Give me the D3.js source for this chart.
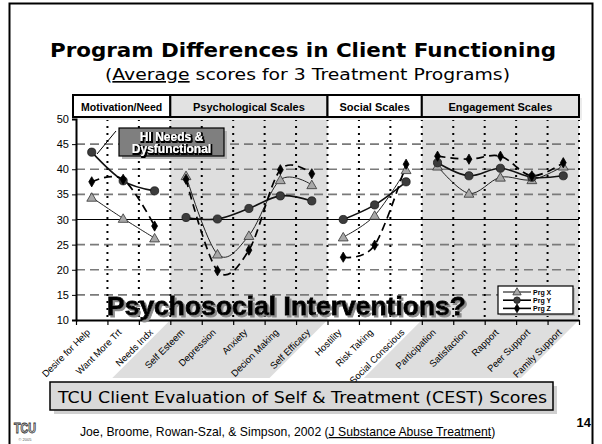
<!DOCTYPE html>
<html><head><meta charset="utf-8">
<script src="https://cdn.jsdelivr.net/npm/d3@7"></script>
<style>body{margin:0;background:#fff} svg{display:block}</style>
</head><body><svg id="c" width="602" height="444"></svg>
<script>
// ---------- data ----------
const categories = ["Desire for Help","Want More Trt","Needs Indx","Self Esteem","Depression","Anxiety","Decion Making","Self Efficacy","Hostility","Risk Taking","Social Conscious","Participation","Satisfaction","Rapport","Peer Support","Family Support"];
const groupNames = ["Motivation/Need","Psychological Scales","Social Scales","Engagement Scales"];
const groupSizes = [3,5,3,5];
const seriesNames = ["Prg X","Prg Y","Prg Z"];
const prgX = [34.4,30.2,26.3, 38.7,23.1,26.8,37.9,36.9, 26.5,30.8,39.9, 40.6,35.2,38.4,37.9,40.6];
const prgY = [43.4,37.7,35.7, 30.4,30.1,32.2,34.7,33.7, 30.0,32.9,37.5, 41.3,38.7,40.2,38.4,38.7];
const prgZ = [37.5,38.0,28.7, 38.0,19.8,23.9,39.9,39.1, 22.5,24.9,41.0, 42.6,42.0,42.6,38.7,41.3];
const yTicks = [10,15,20,25,30,35,40,45,50];

// ---------- setup ----------
const svg = d3.select("#c");
const L = 76, R = 579, T = 119, B = 320;
const x = d3.scaleBand().domain(categories).range([L, R]).padding(0);
const xb = d3.scaleLinear().domain([0, categories.length]).range([L, R]);
const y = d3.scaleLinear().domain([10, 50]).range([B, T]);
const bw = x.bandwidth();
const SANS = "'Liberation Sans', Arial, sans-serif";
const TAH = "'DejaVu Sans', Verdana, sans-serif";

const defs = svg.append("defs");
const f = defs.append("filter").attr("id","shadow").attr("x","-5%").attr("y","-20%").attr("width","110%").attr("height","140%");
f.append("feDropShadow").attr("dx",2).attr("dy",2).attr("stdDeviation",0.4).attr("flood-color","#8c8c8c").attr("flood-opacity",1);
const f2 = defs.append("filter").attr("id","dark").attr("x","-5%").attr("y","-20%").attr("width","110%").attr("height","140%");
f2.append("feMorphology").attr("in","SourceAlpha").attr("operator","dilate").attr("radius",0.8).attr("result","d");
f2.append("feOffset").attr("in","d").attr("dx",0.8).attr("dy",0.8).attr("result","o");
const m = f2.append("feMerge"); m.append("feMergeNode").attr("in","o"); m.append("feMergeNode").attr("in","SourceGraphic");

// group extents
let acc = 0;
const groups = groupNames.map((n, i) => { const g = {name:n, i, s:acc, e:acc+groupSizes[i]}; acc += groupSizes[i]; return g; });

// outer border
svg.append("rect").attr("x",9.5).attr("y",3.5).attr("width",583).attr("height",445)
  .attr("fill","#fff").attr("stroke","#000").attr("stroke-width",2);

// title
svg.append("text").attr("x",50).attr("y",57).attr("font-family",TAH).attr("font-weight","bold")
  .attr("font-size",20).attr("textLength",506).attr("lengthAdjust","spacingAndGlyphs")
  .text("Program Differences in Client Functioning");
const sub = svg.append("text").attr("x",105).attr("y",80).attr("font-family",TAH)
  .attr("font-size",16.5).attr("textLength",405).attr("lengthAdjust","spacingAndGlyphs");
sub.append("tspan").text("(");
sub.append("tspan").attr("text-decoration","underline").text("Average");
sub.append("tspan").text(" scores for 3 Treatment Programs)");

// shaded groups
groups.filter(g => g.i % 2 === 1).forEach(g => {
  const x0 = xb(g.s), x1 = xb(g.e);
  svg.append("rect").attr("x",x0).attr("y",T).attr("width",x1-x0).attr("height",B-T).attr("fill","#dedede");
  svg.append("polygon").attr("points",`${x0},${B} ${x1},${B} ${x1-58},378 ${x0-58},378`).attr("fill","#dedede");
});

// horizontal grid
yTicks.filter(v => v !== 10 && v !== 50).forEach(v => {
  svg.append("line").attr("x1",L).attr("x2",R).attr("y1",y(v)).attr("y2",y(v))
    .attr("stroke", v === 30 ? "#000" : "#7a7a7a").attr("stroke-width", v === 30 ? 1 : 1.6)
    .attr("stroke-dasharray", v === 30 ? null : "9,5");
});
// vertical dotted lines
d3.range(1, categories.length + 1).forEach(k => {
  svg.append("line").attr("x1",xb(k)).attr("x2",xb(k)).attr("y1",T).attr("y2",B)
    .attr("stroke","#000").attr("stroke-width",2).attr("stroke-dasharray","2,5");
});

// header boxes
groups.forEach(g => {
  const x0 = xb(g.s) - (g.i === 0 ? 3 : 0), x1 = xb(g.e);
  svg.append("rect").attr("x",x0+3).attr("y",98).attr("width",x1-x0).attr("height",22).attr("fill","#ececec");
});
groups.forEach(g => {
  const x0 = xb(g.s) - (g.i === 0 ? 3 : 0), x1 = xb(g.e);
  svg.append("rect").attr("x",x0).attr("y",95).attr("width",x1-x0).attr("height",22)
    .attr("fill", g.i % 2 ? "#e2e2e2" : "#fff").attr("stroke","#000").attr("stroke-width",2);
  svg.append("text").attr("x",(x0+x1)/2).attr("y",110.5).attr("text-anchor","middle")
    .attr("font-family",SANS).attr("font-weight","bold").attr("font-size", g.i === 0 ? 10.5 : 11).text(g.name);
});

// axes
const ya = svg.append("g").attr("transform",`translate(${L},0)`)
  .call(d3.axisLeft(y).tickValues(yTicks).tickSize(4).tickPadding(3));
ya.select(".domain").attr("stroke-width",2);
ya.selectAll("text").attr("font-family",SANS).attr("font-size",11).attr("fill","#000");
const xa = svg.append("g").attr("transform",`translate(0,${B})`)
  .call(d3.axisBottom(xb).ticks(categories.length).tickFormat("").tickSize(5).tickSizeOuter(0));
xa.select(".domain").attr("stroke-width",2);
xa.selectAll(".tick line").attr("stroke-width",1.2);
svg.append("g").selectAll("text").data(categories).join("text")
  .attr("transform", d => `translate(${x(d)+bw/2-1},333) rotate(-45)`)
  .attr("text-anchor","end").attr("font-family",SANS).attr("font-size",9.5).text(d => d);

// series
const seriesData = [prgX, prgY, prgZ];
const lineStyles = [
  {stroke:"#222", w:1, dash:null},
  {stroke:"#111", w:1.6, dash:null},
  {stroke:"#000", w:1.7, dash:"8,5"}
];
const line = d3.line().x(d => x(d.c) + bw/2).y(d => y(d.v)).curve(d3.curveCardinal.tension(0));
seriesData.forEach((vals, si) => {
  groups.forEach(g => {
    const pts = d3.range(g.s, g.e).map(k => ({c: categories[k], v: vals[k]}));
    svg.append("path").attr("d", line(pts)).attr("fill","none")
      .attr("stroke", lineStyles[si].stroke).attr("stroke-width", lineStyles[si].w)
      .attr("stroke-dasharray", lineStyles[si].dash);
  });
});
const sym = [d3.symbol().type(d3.symbolTriangle).size(42), d3.symbol().type(d3.symbolCircle).size(52), d3.symbol().type(d3.symbolDiamond).size(30)];
const symFill = ["#a8a8a8","#3c3c3c","#000"];
const symStroke = ["#333","#1a1a1a","#000"];
seriesData.forEach((vals, si) => {
  svg.append("g").selectAll("path").data(vals).join("path")
    .attr("transform", (v, k) => `translate(${x(categories[k]) + bw/2},${y(v) + (si === 0 ? 1 : 0)})`)
    .attr("d", sym[si]()).attr("fill", symFill[si]).attr("stroke", symStroke[si]).attr("stroke-width", 0.8);
});

// HI Needs callout
svg.append("line").attr("x1",116).attr("y1",131).attr("x2",97).attr("y2",154).attr("stroke","#000").attr("stroke-width",1);
svg.append("rect").attr("x",122).attr("y",131).attr("width",105).attr("height",28).attr("fill","#b5b5b5");
svg.append("rect").attr("x",119).attr("y",128).attr("width",105).attr("height",28).attr("fill","#7f7f7f").attr("stroke","#000").attr("stroke-width",1.2);
const hi = svg.append("text").attr("text-anchor","middle").attr("font-family",SANS)
  .attr("font-weight","bold").attr("font-size",12).attr("fill","#fff").attr("filter","url(#dark)");
["HI Needs &","Dysfunctional"].forEach((t, i) => {
  hi.append("tspan").attr("x",171.5).attr("y",140.5 + i*12.5).text(t);
});

// Psychosocial Interventions?
svg.append("text").attr("x",107).attr("y",315).attr("font-family",SANS).attr("font-weight","900")
  .attr("font-size",26).attr("fill","#000").attr("stroke","#000").attr("stroke-width",0.8)
  .attr("textLength",359).attr("lengthAdjust","spacingAndGlyphs").attr("filter","url(#shadow)")
  .text("Psychosocial Interventions?");

// legend
svg.append("rect").attr("x",500).attr("y",288).attr("width",75).attr("height",28).attr("fill","#bdbdbd");
svg.append("rect").attr("x",498).attr("y",286).attr("width",75).attr("height",28).attr("fill","#fff").attr("stroke","#000").attr("stroke-width",1.2);
seriesNames.forEach((n, si) => {
  const ly = 292 + si*8.2;
  svg.append("line").attr("x1",503).attr("x2",531).attr("y1",ly).attr("y2",ly)
    .attr("stroke","#000").attr("stroke-width", si === 0 ? 1 : 1.6);
  svg.append("path").attr("transform",`translate(517,${ly + (si === 0 ? 0.5 : 0)})`)
    .attr("d", d3.symbol().type([d3.symbolTriangle,d3.symbolCircle,d3.symbolDiamond][si]).size([30,34,22][si])())
    .attr("fill", symFill[si]).attr("stroke", symStroke[si]).attr("stroke-width",0.8);
  svg.append("text").attr("x",533).attr("y",ly+2.5).attr("font-family",SANS).attr("font-weight","bold")
    .attr("font-size",7).text(n);
});

// TCU CEST box
svg.append("rect").attr("x",54).attr("y",386).attr("width",503).attr("height",28).attr("fill","#d0d0d0");
svg.append("rect").attr("x",50).attr("y",382).attr("width",503).attr("height",28).attr("fill","#d9d9d9").attr("stroke","#000").attr("stroke-width",1.5);
svg.append("text").attr("x",58).attr("y",403).attr("font-family",TAH).attr("font-size",16)
  .attr("textLength",489).attr("lengthAdjust","spacingAndGlyphs")
  .text("TCU Client Evaluation of Self & Treatment (CEST) Scores");

// footer
const ft = svg.append("text").attr("x",80).attr("y",436).attr("font-family",SANS).attr("font-size",12.2);
ft.append("tspan").text("Joe, Broome, Rowan-Szal, & Simpson, 2002 (");
ft.append("tspan").attr("text-decoration","underline").text("J Substance Abuse Treatment");
ft.append("tspan").text(")");
svg.append("text").attr("x",591).attr("y",427).attr("text-anchor","end").attr("font-family",SANS)
  .attr("font-weight","bold").attr("font-size",13).text("14");
// logo
svg.append("text").attr("x",25).attr("y",433).attr("text-anchor","middle").attr("font-family",SANS)
  .attr("font-weight","900").attr("font-size",14).attr("fill","#d8d8d8").attr("stroke","#333").attr("stroke-width",0.9)
  .attr("textLength",22).attr("lengthAdjust","spacingAndGlyphs").text("TCU");
svg.append("text").attr("x",25).attr("y",441).attr("text-anchor","middle").attr("font-family",SANS)
  .attr("font-size",4).attr("fill","#555").text("© 2005");
</script></body></html>
